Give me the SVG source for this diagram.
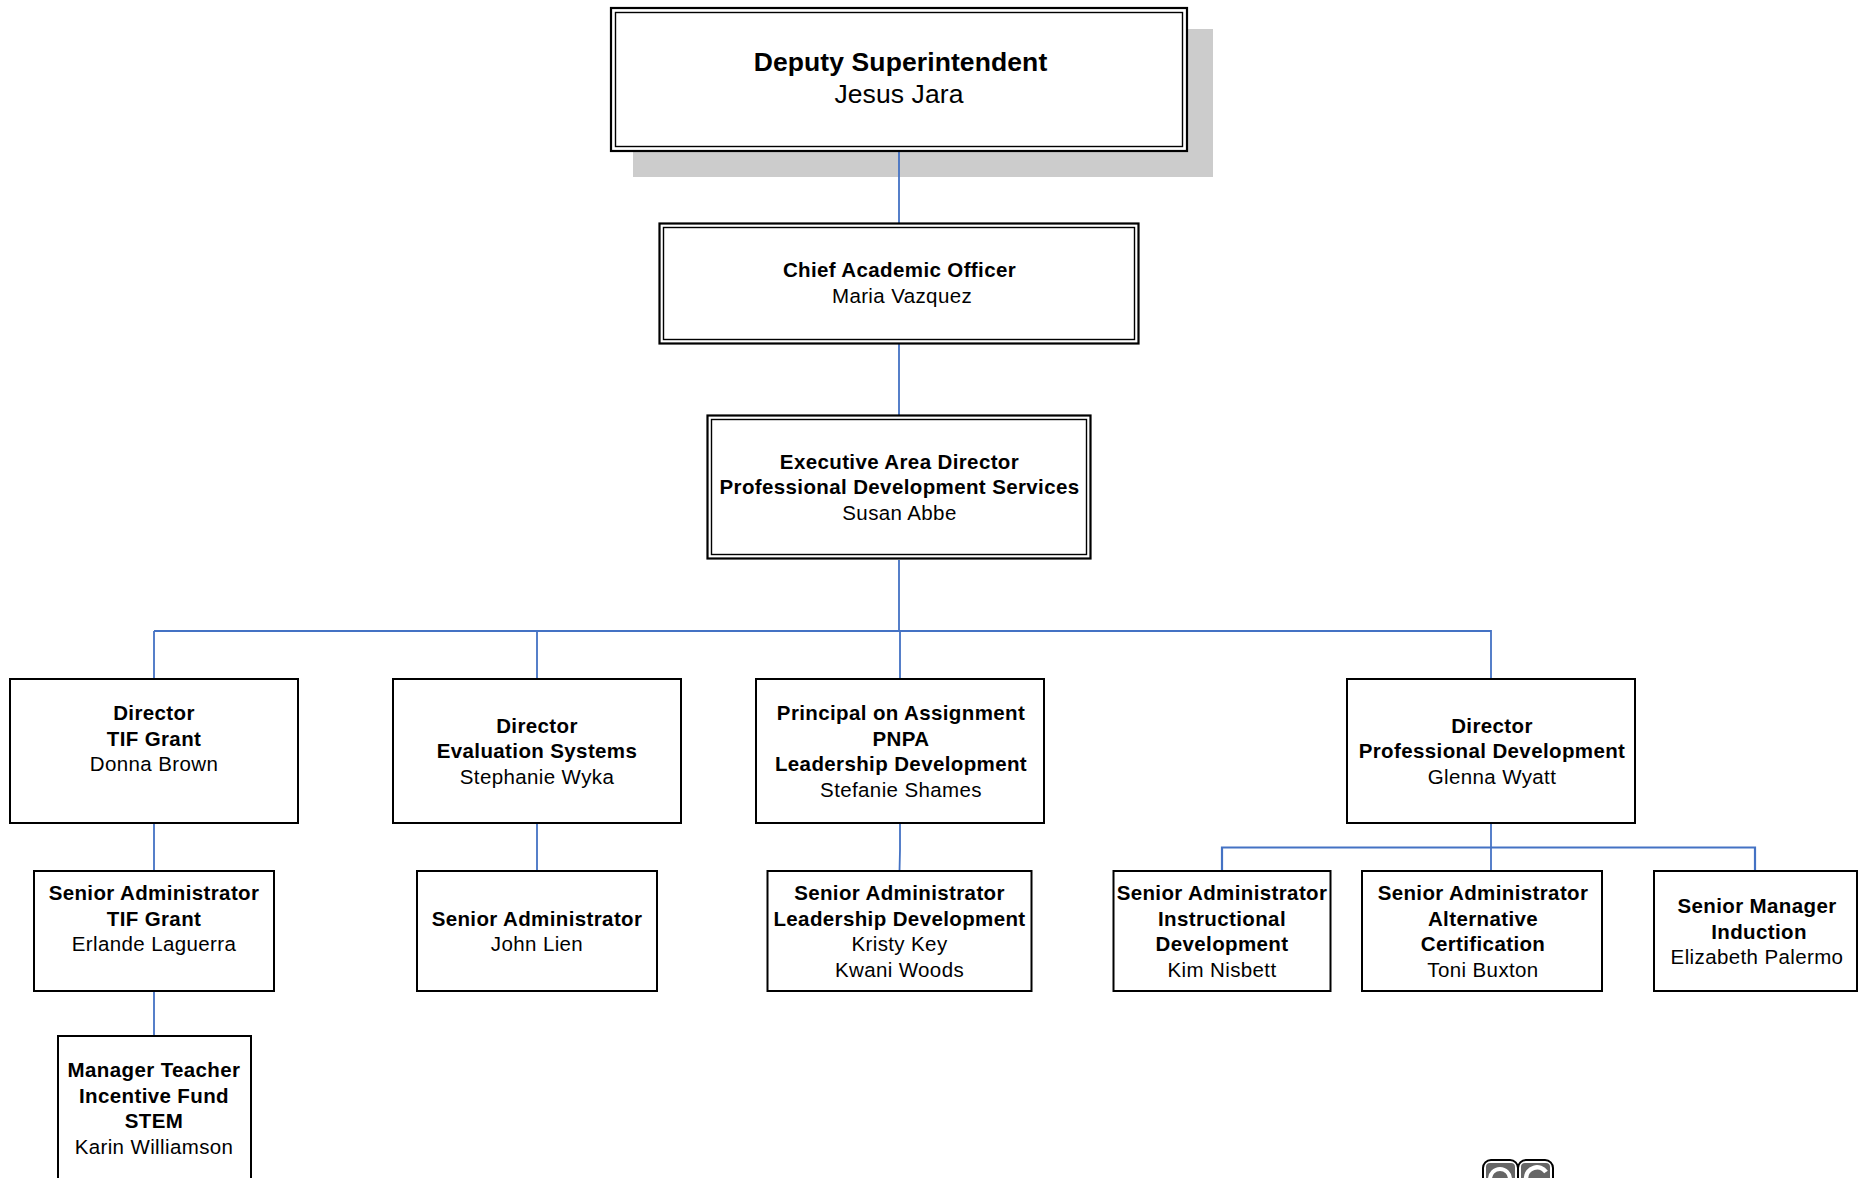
<svg xmlns="http://www.w3.org/2000/svg" width="1864" height="1178" viewBox="0 0 1864 1178">
<style>
text{font-family:"Liberation Sans",Arial,sans-serif;text-anchor:middle;fill:#000;font-size:20.5px;letter-spacing:.38px}
.b{font-weight:700}
.t{font-size:26.5px;letter-spacing:.1px}
.box{fill:#fff;stroke:#000;stroke-width:2}
.o{fill:#fff;stroke:#000;stroke-width:2.2}
.i{fill:none;stroke:#000;stroke-width:1.4}
#connectors path{fill:none;stroke:#4472c4;stroke-width:1.8}
</style>
<rect width="1864" height="1178" fill="#fff"/>
<rect x="633" y="29" width="580" height="148" fill="#cccccc"/>
<g id="connectors">
<path d="M899 151V223M899 344V416M899 560V631M154 631H1491V679M154 631V679M537 631V679M900 631V679"/>
<path d="M154 823V871M154 991V1036M537 823V871M900 823V850L899.500 871"/>
<path d="M1491 823V871"/>
<path d="M1222 871V847.500H1755V871" style="stroke-width:2.2"/>
</g>
<g id="n1"><rect class="o" x="611" y="8" width="576" height="143"/><rect class="i" x="615.500" y="12.500" width="567" height="134"/>
<text class="b t" x="900.500" y="71">Deputy Superintendent</text><text class="t" x="899" y="103">Jesus Jara</text></g>
<g id="n2"><rect class="o" x="659.500" y="223.500" width="479" height="120"/><rect class="i" x="663.500" y="227.500" width="471" height="112"/>
<text class="b" x="899.500" y="277">Chief Academic Officer</text><text x="902" y="303">Maria Vazquez</text></g>
<g id="n3"><rect class="o" x="707.500" y="415.500" width="383" height="143"/><rect class="i" x="711.500" y="419.500" width="375" height="135"/>
<text class="b" x="899.500" y="469">Executive Area Director</text><text class="b" x="899.500" y="494">Professional Development Services</text><text x="899.500" y="520">Susan Abbe</text></g>
<g id="n4"><rect class="box" x="10" y="679" width="288" height="144"/>
<text class="b" x="154" y="720">Director</text><text class="b" x="154" y="746">TIF Grant</text><text x="154" y="771">Donna Brown</text></g>
<g id="n5"><rect class="box" x="393" y="679" width="288" height="144"/>
<text class="b" x="537" y="733">Director</text><text class="b" x="537" y="758">Evaluation Systems</text><text x="537" y="784">Stephanie Wyka</text></g>
<g id="n6"><rect class="box" x="756" y="679" width="288" height="144"/>
<text class="b" x="901" y="720">Principal on Assignment</text><text class="b" x="901" y="746">PNPA</text><text class="b" x="901" y="771">Leadership Development</text><text x="901" y="797">Stefanie Shames</text></g>
<g id="n7"><rect class="box" x="1347" y="679" width="288" height="144"/>
<text class="b" x="1492" y="733">Director</text><text class="b" x="1492" y="758">Professional Development</text><text x="1492" y="784">Glenna Wyatt</text></g>
<g id="n8"><rect class="box" x="34" y="871" width="240" height="120"/>
<text class="b" x="154" y="900">Senior Administrator</text><text class="b" x="154" y="926">TIF Grant</text><text x="154" y="951">Erlande Laguerra</text></g>
<g id="n9"><rect class="box" x="417" y="871" width="240" height="120"/>
<text class="b" x="537" y="926">Senior Administrator</text><text x="537" y="951">John Lien</text></g>
<g id="n10"><rect class="box" x="767.500" y="871" width="264" height="120"/>
<text class="b" x="899.500" y="900">Senior Administrator</text><text class="b" x="899.500" y="926">Leadership Development</text><text x="899.500" y="951">Kristy Key</text><text x="899.500" y="977">Kwani Woods</text></g>
<g id="n11"><rect class="box" x="1113.500" y="871" width="217" height="120"/>
<text class="b" x="1222" y="900">Senior Administrator</text><text class="b" x="1222" y="926">Instructional</text><text class="b" x="1222" y="951">Development</text><text x="1222" y="977">Kim Nisbett</text></g>
<g id="n12"><rect class="box" x="1362" y="871" width="240" height="120"/>
<text class="b" x="1483" y="900">Senior Administrator</text><text class="b" x="1483" y="926">Alternative</text><text class="b" x="1483" y="951">Certification</text><text x="1483" y="977">Toni Buxton</text></g>
<g id="n13"><rect class="box" x="1654" y="871" width="203" height="120"/>
<text class="b" x="1757" y="913">Senior Manager</text><text class="b" x="1759" y="939">Induction</text><text x="1757" y="964">Elizabeth Palermo</text></g>
<g id="n14"><rect class="box" x="58" y="1036" width="193" height="160"/>
<text class="b" x="154" y="1077">Manager Teacher</text><text class="b" x="154" y="1103">Incentive Fund</text><text class="b" x="154" y="1128">STEM</text><text x="154" y="1154">Karin Williamson</text></g>
<g id="logo">
<rect x="1483" y="1160" width="35" height="32" rx="8" fill="#fff" stroke="#000" stroke-width="2"/>
<rect x="1518" y="1160" width="35" height="32" rx="8" fill="#fff" stroke="#000" stroke-width="2"/>
<rect x="1486" y="1163" width="29" height="26" rx="4" fill="#666"/>
<rect x="1521" y="1163" width="29" height="26" rx="4" fill="#666"/>
<circle cx="1500" cy="1179" r="10" fill="#666" stroke="#fff" stroke-width="4"/>
<path d="M1546 1172A11 11 0 0 0 1526 1178" fill="none" stroke="#fff" stroke-width="4.500"/>
</g>
</svg>
